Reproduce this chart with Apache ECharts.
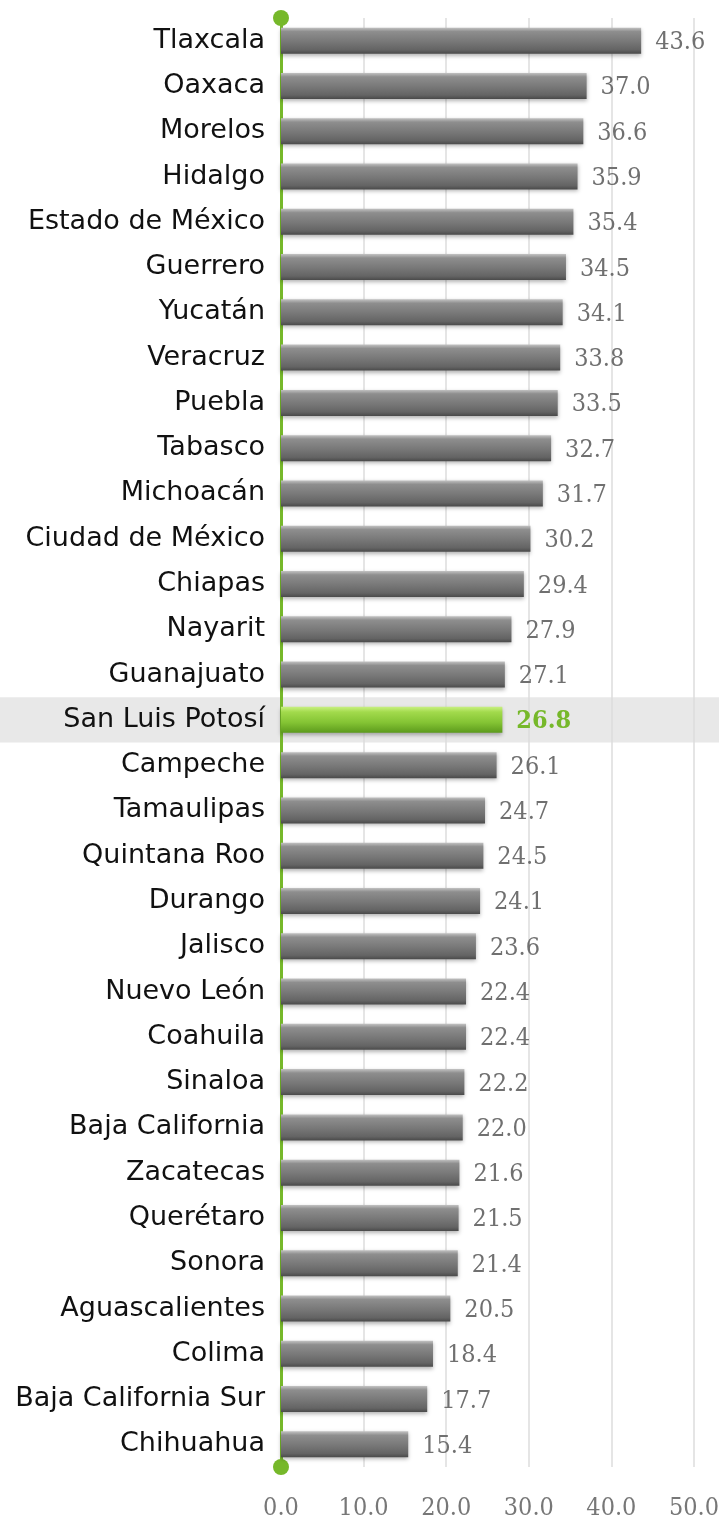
<!DOCTYPE html>
<html>
<head>
<meta charset="utf-8">
<script src="https://cdn.jsdelivr.net/npm/echarts@6/dist/echarts.min.js"></script>
<style>
  html, body { margin: 0; padding: 0; background: #fff; }
  #chart { width: 719px; height: 1517px; }
</style>
</head>
<body>
<div id="chart"></div>
<script>
  // estados y valores
  const states = ['Tlaxcala', 'Oaxaca', 'Morelos', 'Hidalgo', 'Estado de México', 'Guerrero', 'Yucatán',
    'Veracruz', 'Puebla', 'Tabasco', 'Michoacán', 'Ciudad de México', 'Chiapas', 'Nayarit', 'Guanajuato',
    'San Luis Potosí', 'Campeche', 'Tamaulipas', 'Quintana Roo', 'Durango', 'Jalisco', 'Nuevo León',
    'Coahuila', 'Sinaloa', 'Baja California', 'Zacatecas', 'Querétaro', 'Sonora', 'Aguascalientes',
    'Colima', 'Baja California Sur', 'Chihuahua'];
  const values = [43.6, 37.0, 36.6, 35.9, 35.4, 34.5, 34.1, 33.8, 33.5, 32.7, 31.7, 30.2, 29.4, 27.9, 27.1,
    26.8, 26.1, 24.7, 24.5, 24.1, 23.6, 22.4, 22.4, 22.2, 22.0, 21.6, 21.5, 21.4, 20.5, 18.4, 17.7, 15.4];
  const highlight = 'San Luis Potosí';
  const xTicks = [0, 10, 20, 30, 40, 50];

  const green = '#76b82a';
  const serif = '"DejaVu Serif Condensed", "DejaVu Serif", serif';
  const greyBar = new echarts.graphic.LinearGradient(0, 0, 0, 1, [
    { offset: 0, color: '#c2c2c2' },
    { offset: 0.15, color: '#8e8e8e' },
    { offset: 0.55, color: '#777777' },
    { offset: 0.85, color: '#646464' },
    { offset: 1, color: '#4a4a4a' }
  ]);
  const greenBar = new echarts.graphic.LinearGradient(0, 0, 0, 1, [
    { offset: 0, color: '#c8f080' },
    { offset: 0.2, color: '#a2da4c' },
    { offset: 0.6, color: '#84c434' },
    { offset: 1, color: '#5c9a1c' }
  ]);

  const data = values.map((v, i) => {
    const hl = states[i] === highlight;
    return {
      value: v,
      itemStyle: { color: hl ? greenBar : greyBar },
      label: hl ? { color: green, fontWeight: 'bold' } : {}
    };
  });

  const myChart = echarts.init(document.getElementById('chart'));
  myChart.setOption({
    animation: false,
    grid: { left: 281, right: 25, top: 18, bottom: 50, containLabel: false, outerBoundsMode: 'none' },
    xAxis: {
      type: 'value',
      min: xTicks[0],
      max: xTicks[xTicks.length - 1],
      interval: 10,
      axisLine: { show: false },
      axisTick: { show: false },
      axisLabel: {
        margin: 29,
        color: '#777',
        fontFamily: serif,
        fontSize: 25,
        formatter: v => v.toFixed(1)
      },
      splitLine: { lineStyle: { color: '#dcdcdc', width: 1.5 } }
    },
    yAxis: {
      type: 'category',
      data: states,
      inverse: true,
      axisLine: {
        show: true,
        symbol: ['circle', 'circle'],
        symbolSize: [16, 16],
        lineStyle: { color: green, width: 3 }
      },
      axisTick: { show: false },
      axisLabel: {
        margin: 16,
        color: '#111',
        fontFamily: 'DejaVu Sans',
        fontSize: 27
      }
    },
    series: [{
      type: 'bar',
      data: data,
      barWidth: 26,
      z: 3,
      itemStyle: {
        shadowColor: 'rgba(0,0,0,0.3)',
        shadowBlur: 4,
        shadowOffsetY: 2
      },
      label: {
        show: true,
        position: 'right',
        distance: 14,
        offset: [0, 2],
        color: '#707070',
        fontFamily: serif,
        fontSize: 25,
        formatter: p => p.value.toFixed(1)
      }
    }]
  });

  // franja de resaltado detrás de San Luis Potosí
  const idx = states.indexOf(highlight);
  const yc = myChart.convertToPixel({ yAxisIndex: 0 }, idx);
  const band = myChart.convertToPixel({ yAxisIndex: 0 }, 1) - myChart.convertToPixel({ yAxisIndex: 0 }, 0);
  myChart.setOption({
    graphic: [{
      type: 'rect',
      z: -100,
      shape: { x: 0, y: yc - band / 2, width: 719, height: band },
      style: { fill: '#e8e8e8' }
    }]
  });
</script>
</body>
</html>
